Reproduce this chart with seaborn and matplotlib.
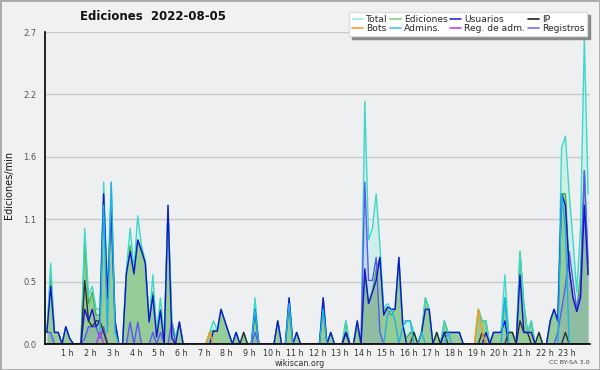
import numpy as np
import pandas as pd
import matplotlib
matplotlib.use("Agg")
import matplotlib.pyplot as plt
import seaborn as sns
from matplotlib.lines import Line2D
from matplotlib.patches import Rectangle
from matplotlib.ticker import MultipleLocator, FixedLocator

# ---- data: edits/min per 10-minute bin (144 bins) ----
total = [
    0.1, 0.7, 0.1, 0.1, 0.0, 0.15,
    0.05, 0, 0, 0, 1.0, 0.42,
    0.5, 0.3, 0.3, 1.4, 0.45, 1.4,
    0.2, 0, 0, 0.65, 1.0, 0.65,
    1.11, 0.85, 0.72, 0.2, 0.6, 0.1,
    0.4, 0.05, 1.2, 0.2, 0.05, 0.19,
    0, 0, 0, 0, 0, 0,
    0, 0.1, 0.2, 0.12, 0.3, 0.2,
    0.1, 0, 0.1, 0, 0.1, 0,
    0, 0.4, 0, 0, 0, 0,
    0, 0.2, 0, 0, 0.4, 0,
    0.1, 0, 0, 0, 0, 0,
    0, 0.4, 0, 0.1, 0, 0,
    0, 0.2, 0, 0, 0.2, 0,
    2.1, 0.9, 1.0, 1.3, 0.85, 0.3,
    0.35, 0.3, 0.3, 0.75, 0.2, 0.2,
    0.2, 0.1, 0, 0.1, 0.4, 0.3,
    0, 0.1, 0, 0.2, 0.1, 0.1,
    0.1, 0.1, 0, 0, 0, 0,
    0.3, 0.2, 0.2, 0, 0.1, 0.1,
    0.1, 0.6, 0.1, 0.1, 0, 0.8,
    0.35, 0.1, 0.2, 0, 0.1, 0,
    0, 0.2, 0.3, 0.2, 1.7, 1.8,
    1.3, 0.9, 0.45, 1.0, 2.65, 1.3,
]
ediciones = [
    0.1, 0.6, 0.1, 0.1, 0, 0.15,
    0.05, 0, 0, 0, 0.9, 0.35,
    0.45, 0.25, 0.25, 1.3, 0.4, 1.3,
    0.2, 0, 0, 0.6, 0.85, 0.6,
    0.9, 0.8, 0.7, 0.2, 0.45, 0.1,
    0.3, 0.05, 1.15, 0.2, 0.05, 0.19,
    0, 0, 0, 0, 0, 0,
    0, 0.1, 0.12, 0.11, 0.3, 0.2,
    0.1, 0, 0.1, 0, 0.1, 0,
    0, 0.25, 0, 0, 0, 0,
    0, 0.2, 0, 0, 0.3, 0,
    0.1, 0, 0, 0, 0, 0,
    0, 0.3, 0, 0.1, 0, 0,
    0, 0.2, 0, 0, 0.15, 0,
    0.6, 0.35, 0.45, 0.65, 0.75, 0.3,
    0.3, 0.25, 0.3, 0.7, 0.15, 0.05,
    0.1, 0.1, 0, 0.1, 0.4, 0.3,
    0, 0.1, 0, 0.2, 0.1, 0.1,
    0.1, 0.1, 0, 0, 0, 0,
    0.3, 0.2, 0.2, 0, 0.1, 0.1,
    0.1, 0.4, 0.1, 0.1, 0, 0.8,
    0.35, 0.1, 0.2, 0, 0.1, 0,
    0, 0.2, 0.3, 0.2, 1.3, 1.3,
    0.65, 0.4, 0.3, 0.6, 1.5, 0.6,
]
usuarios = [
    0.1, 0.5, 0.1, 0.1, 0, 0.15,
    0.05, 0, 0, 0, 0.3, 0.2,
    0.3, 0.15, 0.2, 1.3, 0.4, 1.15,
    0.2, 0, 0, 0.61, 0.8, 0.61,
    0.9, 0.81, 0.7, 0.19, 0.42, 0.06,
    0.29, 0, 1.2, 0.05, 0, 0.19,
    0, 0, 0, 0, 0, 0,
    0, 0, 0.11, 0.11, 0.3, 0.2,
    0.1, 0, 0.1, 0, 0, 0,
    0, 0.3, 0, 0, 0, 0,
    0, 0.2, 0, 0, 0.4, 0,
    0.1, 0, 0, 0, 0, 0,
    0, 0.4, 0, 0.1, 0, 0,
    0, 0.1, 0, 0, 0.2, 0,
    0.65, 0.35, 0.45, 0.55, 0.75, 0.25,
    0.32, 0.3, 0.3, 0.75, 0.18, 0,
    0, 0, 0, 0.1, 0.3, 0.3,
    0, 0, 0, 0.1, 0.1, 0.1,
    0.1, 0.1, 0, 0, 0, 0,
    0, 0, 0.1, 0, 0.1, 0.1,
    0.1, 0.2, 0, 0, 0, 0.6,
    0.1, 0.1, 0.1, 0, 0, 0,
    0, 0.2, 0.3, 0.2, 1.3, 1.2,
    0.65, 0.4, 0.28, 0.4, 1.2, 0.6,
]
ip = [
    0, 0, 0, 0, 0, 0,
    0, 0, 0, 0, 0.55, 0.2,
    0.15, 0.2, 0.2, 0.1, 0, 0,
    0, 0, 0, 0, 0, 0,
    0, 0, 0, 0, 0, 0,
    0, 0, 0, 0, 0, 0,
    0, 0, 0, 0, 0, 0,
    0, 0, 0, 0, 0, 0,
    0, 0, 0, 0, 0.1, 0,
    0, 0, 0, 0, 0, 0,
    0, 0, 0, 0, 0, 0,
    0, 0, 0, 0, 0, 0,
    0, 0, 0, 0, 0, 0,
    0, 0.1, 0, 0, 0, 0,
    0, 0, 0, 0, 0, 0,
    0, 0, 0, 0, 0, 0,
    0, 0.1, 0, 0, 0, 0,
    0, 0.1, 0, 0.1, 0, 0,
    0, 0, 0, 0, 0, 0,
    0, 0.1, 0, 0, 0, 0,
    0, 0, 0.1, 0.1, 0, 0.2,
    0.1, 0.1, 0, 0, 0.1, 0,
    0, 0, 0, 0, 0, 0.1,
    0, 0, 0, 0, 0, 0,
]
admins = [
    0, 0, 0, 0, 0, 0,
    0, 0, 0, 0, 0, 0,
    0, 0, 0.1, 1.2, 0.1, 1.4,
    0.1, 0, 0, 0, 0, 0,
    0, 0, 0, 0, 0, 0,
    0, 0, 0, 0, 0, 0,
    0, 0, 0, 0, 0, 0,
    0, 0, 0, 0, 0, 0,
    0, 0, 0, 0, 0, 0,
    0, 0.3, 0, 0, 0, 0,
    0, 0, 0, 0, 0.35, 0,
    0, 0, 0, 0, 0, 0,
    0, 0.3, 0, 0, 0, 0,
    0, 0, 0, 0, 0, 0,
    0, 0, 0, 0, 0, 0,
    0.25, 0.3, 0.2, 0, 0.15, 0.2,
    0.2, 0, 0, 0.1, 0, 0,
    0, 0, 0, 0, 0.1, 0,
    0, 0, 0, 0, 0, 0,
    0, 0, 0, 0, 0, 0,
    0, 0.4, 0, 0, 0, 0,
    0, 0, 0, 0, 0, 0,
    0, 0, 0, 0, 1.3, 1.0,
    0, 0, 0, 0, 0, 0,
]
registros = [
    0.1, 0.1, 0, 0, 0, 0,
    0, 0, 0, 0, 0.05, 0.15,
    0.15, 0.15, 0.05, 0.15, 0, 0,
    0, 0, 0, 0, 0.19, 0,
    0.19, 0, 0, 0, 0.1, 0,
    0.1, 0, 0, 0.19, 0, 0,
    0, 0, 0, 0, 0, 0,
    0, 0, 0, 0, 0, 0,
    0, 0, 0, 0, 0, 0,
    0, 0.1, 0, 0, 0, 0,
    0, 0, 0, 0, 0, 0,
    0, 0, 0, 0, 0, 0,
    0, 0, 0, 0, 0, 0,
    0, 0, 0, 0, 0, 0,
    1.4, 0.55, 0.55, 0.75, 0.1, 0,
    0, 0, 0, 0, 0, 0,
    0, 0, 0, 0, 0, 0,
    0, 0, 0, 0, 0, 0,
    0, 0, 0, 0, 0, 0,
    0, 0, 0, 0, 0, 0,
    0, 0, 0, 0, 0, 0,
    0, 0, 0, 0, 0, 0,
    0, 0, 0, 0.1, 0.3, 0.5,
    0.8, 0.55, 0.3, 0.45, 1.5, 0.7,
]
bots = [0.0] * 144
bots_vals = {43: 0.1, 114: 0.3, 115: 0.1}
reg_adm = [0.0] * 144
reg_adm_vals = {14: 0.1}
for k, v in bots_vals.items():
    bots[k] = v
for k, v in reg_adm_vals.items():
    reg_adm[k] = v

hour_labels = [f"{h} h" for h in range(1, 24)]
title = "Ediciones  2022-08-05"

series = {
    "Total": total, "Ediciones": ediciones, "Usuarios": usuarios, "IP": ip,
    "Bots": bots, "Admins.": admins, "Reg. de adm.": reg_adm, "Registros": registros,
}
for k, v in series.items():
    assert len(v) == 144, k

horas = (np.arange(144) + 0.5) / 6.0

line_colors = {
    "Ediciones": "#46b046", "Total": "#3fd8c8", "Registros": "#5a5af2",
    "IP": "#2e2e2e", "Usuarios": "#1414d0", "Admins.": "#1fb2e6",
    "Bots": "#ff9a1a", "Reg. de adm.": "#c63ccf",
}
draw_order = ["Ediciones", "Total", "Registros", "IP", "Usuarios", "Admins.", "Bots", "Reg. de adm."]

df = pd.DataFrame({
    "hora": np.tile(horas, len(draw_order)),
    "serie": np.repeat(draw_order, 144),
    "valor": np.concatenate([series[s] for s in draw_order]),
})

sns.set_style("white")
plt.rcParams["font.family"] = ["DejaVu Sans"]

fig = plt.figure(figsize=(6, 3.7), dpi=100, facecolor="#f1f1f1")
ax = fig.add_axes([45 / 600, 26 / 370, 545 / 600, 312 / 370])
ax.set_facecolor("#eeeff1")

ax.fill_between(horas, total, 0, color="#cfeeea", lw=0, zorder=1)
ax.fill_between(horas, ediciones, 0, color="#96cc96", lw=0, zorder=1.1)
ax.fill_between(horas, registros, 0, color="#5a5af2", alpha=0.13, lw=0, zorder=1.2)

sns.lineplot(data=df, x="hora", y="valor", hue="serie", hue_order=draw_order,
             palette=line_colors, legend=False, linewidth=1.0, ax=ax,
             estimator=None, sort=False, zorder=2)

ax.set_xlim(0, 24)
ax.set_ylim(0, 2.7)
ax.xaxis.set_major_locator(FixedLocator(list(range(1, 24))))
ax.set_xticklabels(hour_labels)
ax.xaxis.set_minor_locator(MultipleLocator(1 / 6))
yt = np.linspace(0, 2.7, 6)
ax.set_yticks(yt)
ax.set_yticklabels([f"{v:.1f}" for v in yt])
ax.yaxis.set_minor_locator(MultipleLocator(0.135))
ax.tick_params(axis="x", which="both", direction="out", length=3, width=1,
               labelsize=5.8, pad=0.3, colors="#111111", labelcolor="#333333")
ax.tick_params(axis="y", which="major", direction="out", length=5, width=1,
               labelsize=6.0, pad=1, colors="#111111", labelcolor="#555555")
ax.tick_params(axis="y", which="minor", direction="out", length=3, width=1, colors="#111111")
ax.set_xlabel("")
ax.set_ylabel("")
ax.yaxis.grid(True, which="major", color="#c9c9c9", lw=1)
ax.xaxis.grid(False)
ax.set_axisbelow(True)
for s in ["top", "right"]:
    ax.spines[s].set_visible(False)
for s in ["left", "bottom"]:
    ax.spines[s].set_color("#000000")
    ax.spines[s].set_linewidth(1.2)

fig.text(153 / 600, 1 - 17 / 370, title, ha="center", va="center",
         fontsize=8.5, fontweight="bold", color="#111111")
fig.text(9 / 600, 0.5, "Ediciones/min", rotation=90, ha="center", va="center",
         fontsize=7, color="#111111")
fig.text(0.5, 1 - 363 / 370, "wikiscan.org", ha="center", va="center",
         fontsize=5.8, color="#333333")
fig.text(590 / 600, 1 - 363 / 370, "CC BY-SA 3.0", ha="right", va="center",
         fontsize=4.6, color="#444444")

legend_colors = {
    "Total": "#a6e6de", "Bots": "#ff9a33", "Ediciones": "#86cf86", "Admins.": "#44c6dc",
    "Usuarios": "#3030dd", "Reg. de adm.": "#cc44dd", "IP": "#222222", "Registros": "#7272ee",
}
leg_order = ["Total", "Bots", "Ediciones", "Admins.", "Usuarios", "Reg. de adm.", "IP", "Registros"]
handles = [Line2D([0], [0], color=legend_colors[n], lw=1.2) for n in leg_order]
leg = fig.legend(handles, leg_order, ncol=4, loc="upper right",
                 bbox_to_anchor=(587 / 600, 1 - 12 / 370), fontsize=6.6,
                 frameon=True, fancybox=False, shadow={"color": "#888888", "alpha": 1},
                 framealpha=1, edgecolor="#dddddd", facecolor="white",
                 handlelength=1.2, handletextpad=0.35, columnspacing=0.25,
                 labelspacing=0.05, borderpad=0.3, borderaxespad=0)

fig.patches.append(Rectangle((0, 0), 1, 1, transform=fig.transFigure, fill=False,
                             edgecolor="#a8a8a8", lw=2))

fig.savefig("out.png", dpi=100, facecolor=fig.get_facecolor())
